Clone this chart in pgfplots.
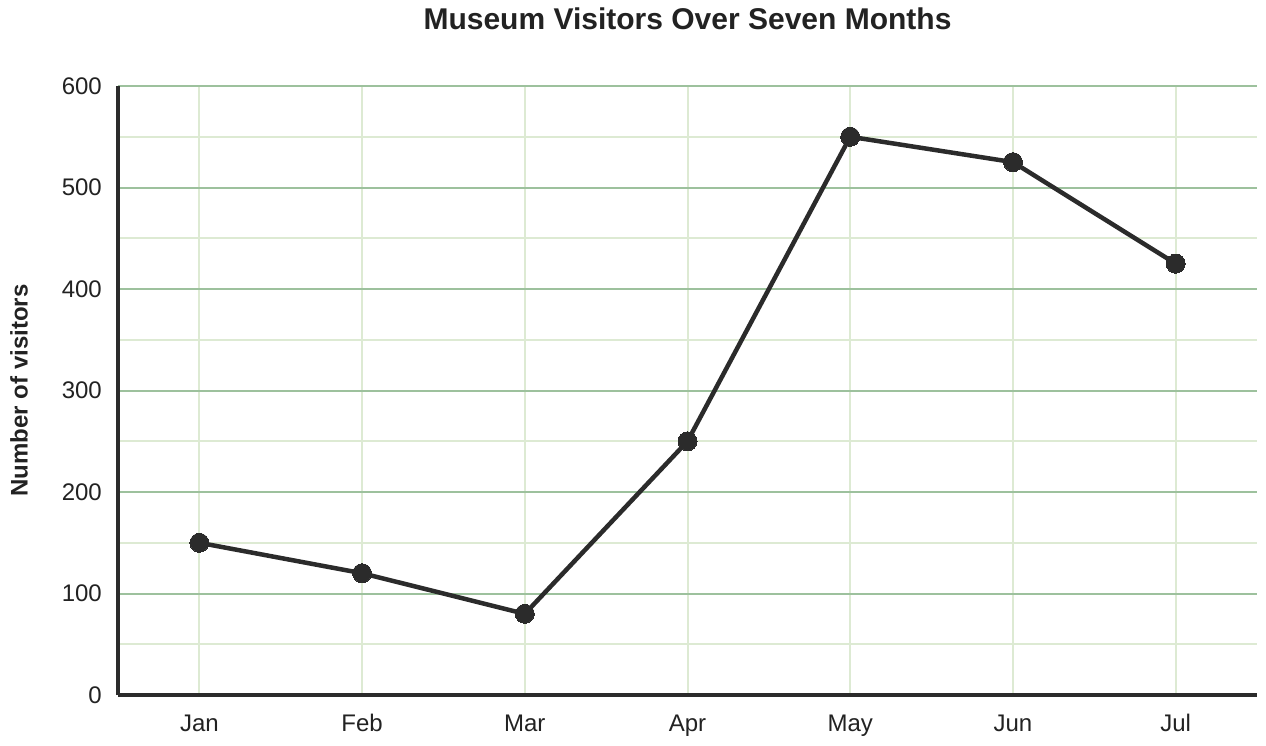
\documentclass[border=0pt]{standalone}
\usepackage{fontspec}
\setmainfont{Liberation Sans}
\usepackage{pgfplots}
\pgfplotsset{compat=1.18}

\definecolor{ink}{HTML}{2B2B2B}
\definecolor{txt}{HTML}{222222}
\definecolor{majgrid}{HTML}{9DC19D}
\definecolor{mingrid}{HTML}{DDEAD3}

\begin{document}
\begin{tikzpicture}
\begin{axis}[
    name=ax,
    scale only axis,
    width=1139bp,
    height=609bp,
    xmin=-0.5, xmax=6.5,
    ymin=0, ymax=600,
    xtick={0,1,2,3,4,5,6},
    xticklabels={Jan,Feb,Mar,Apr,May,Jun,Jul},
    ytick={0,100,200,300,400,500,600},
    minor y tick num=1,
    axis x line=bottom,
    axis y line=left,
    axis line style={-, line width=4bp, ink},
    major tick length=0pt,
    minor tick length=0pt,
    xmajorgrids, ymajorgrids, yminorgrids,
    x grid style={line width=2bp, mingrid},
    major grid style={line width=2bp, majgrid},
    minor grid style={line width=2bp, mingrid},
    /pgf/number format/assume math mode=true,
    tick label style={font=\fontsize{24bp}{28bp}\selectfont, text=txt, inner sep=0pt},
    xticklabel style={anchor=base, yshift=-36bp},
    yticklabel style={anchor=east, xshift=-16bp},
    title={Museum Visitors Over Seven Months},
    title style={at={(rel axis cs:0.5,1)}, anchor=base, yshift=51bp,
        font=\bfseries\fontsize{30bp}{34bp}\selectfont, text=txt, inner sep=0pt},
    ylabel={Number of visitors},
    ylabel style={at={(rel axis cs:0,0.5)}, anchor=center, yshift=99bp,
        font=\bfseries\fontsize{24bp}{28bp}\selectfont, text=txt, inner sep=0pt},
]
\addplot[color=ink, line width=4.5bp, line join=round, mark=*, mark size=9.5bp,
    mark options={solid, fill=ink, line width=0pt}] coordinates {
    (0,150)
    (1,120)
    (2,80)
    (3,250)
    (4,550)
    (5,525)
    (6,425)
};
\end{axis}
\pgfresetboundingbox
\path ([xshift=-118bp,yshift=-50bp]ax.south west) rectangle ([xshift=9bp,yshift=86bp]ax.north east);
\end{tikzpicture}
\end{document}
